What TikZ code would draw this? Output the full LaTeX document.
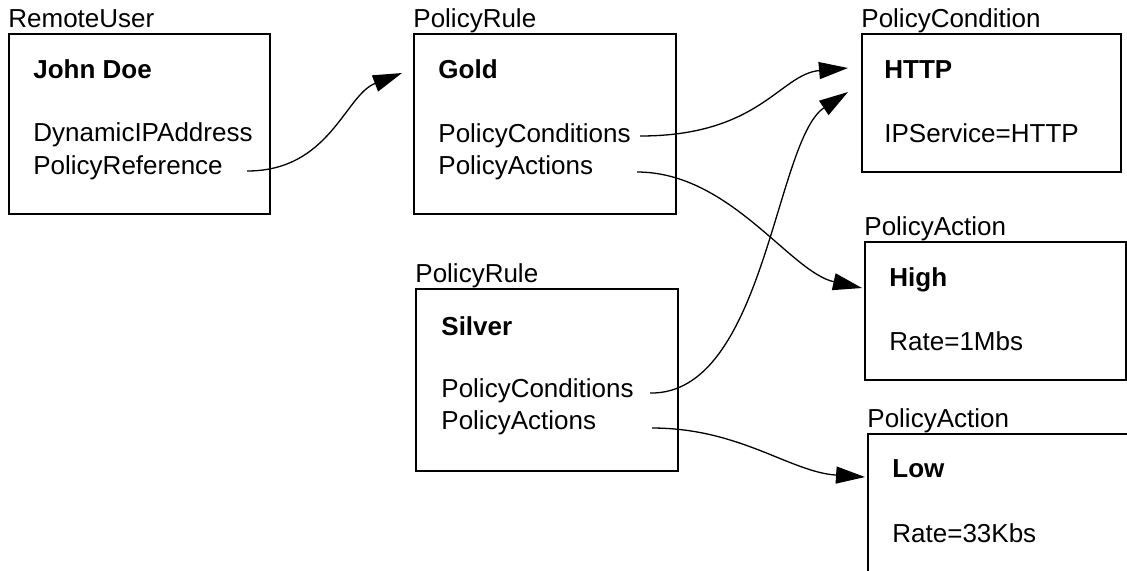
\documentclass[tikz,border=0pt]{standalone}
\usepackage{fontspec}
\setmainfont{Liberation Sans}
\usetikzlibrary{arrows.meta,calc}
\begin{document}
\begin{tikzpicture}[x=0.5pt,y=-0.5pt,
  objbox/.style={draw,line width=0.75pt,rectangle,inner sep=0pt,anchor=north west},
  txt/.style={anchor=base west,inner sep=0pt,font=\fontsize{13}{15}\selectfont},
  title/.style={anchor=base west,inner sep=0pt,font=\fontsize{13}{15}\selectfont\bfseries},
  link/.style={line width=0.65pt,-{Triangle[length=14.5pt,width=8.5pt]}}]
\clip (0,0) rectangle (1127,570);

% RemoteUser object
\node[objbox,minimum width=130.5pt,minimum height=90pt] (ru) at (8,33) {};
\node[txt] (rucls) at (8,27) {RemoteUser};
\node[title] (runame) at (33,78) {John Doe};
\node[txt] (ruip) at (33,141) {DynamicIPAddress};
\node[txt] (ruref) at (33,174) {PolicyReference};

% Gold rule
\node[objbox,minimum width=131pt,minimum height=90pt] (gold) at (413,33) {};
\node[txt] (goldcls) at (413,27) {PolicyRule};
\node[title] (goldname) at (438,78) {Gold};
\node[txt] (goldcond) at (438,142) {PolicyConditions};
\node[txt] (goldact) at (438,174) {PolicyActions};

% HTTP condition
\node[objbox,minimum width=129.5pt,minimum height=69pt] (pc) at (861,33) {};
\node[txt] (pccls) at (861,27) {PolicyCondition};
\node[title] (pcname) at (884,78) {HTTP};
\node[txt] (pcsvc) at (884,142) {IPService=HTTP};

% High action
\node[objbox,minimum width=130.5pt,minimum height=69pt] (high) at (864,241) {};
\node[txt] (highcls) at (864,235) {PolicyAction};
\node[title] (highname) at (889,286) {High};
\node[txt] (highrate) at (889,350) {Rate=1Mbs};

% Silver rule
\node[objbox,minimum width=131pt,minimum height=91pt] (silver) at (415,288) {};
\node[txt] (silvercls) at (415,282) {PolicyRule};
\node[title] (silvername) at (441,335) {Silver};
\node[txt] (silvercond) at (441,397) {PolicyConditions};
\node[txt] (silveract) at (441,429) {PolicyActions};

% Low action
\node[objbox,minimum width=150pt,minimum height=100pt] (low) at (867,433) {};
\node[txt] (lowcls) at (867,427) {PolicyAction};
\node[title] (lowname) at (892,477) {Low};
\node[txt] (lowrate) at (892,542) {Rate=33Kbs};

% connector end points
\coordinate (refout) at (247,171);
\coordinate (gcout) at (640,136);
\coordinate (gaout) at (637,172);
\coordinate (scout) at (650,393);
\coordinate (saout) at (652,428);
\coordinate (goldin) at ($(gold.north west)+(-11,40)$);
\coordinate (pcin1) at ($(pc.north west)+(-13,35)$);
\coordinate (pcin2) at ($(pc.north west)+(-13,59)$);
\coordinate (highin) at ($(high.north west)+(-2,47)$);
\coordinate (lowin) at ($(low.north west)+(-2,44)$);

% references
\draw[link] (refout) .. controls (330,171) and (345,95) .. (goldin);
\draw[link] (gcout) .. controls (760,136) and (780,74) .. (pcin1);
\draw[link] (gaout) .. controls (730,172) and (790,272) .. (highin);
\draw[link] (scout) .. controls (765,395) and (775,140) .. (pcin2);
\draw[link] (saout) .. controls (740,428) and (790,472) .. (lowin);
\end{tikzpicture}
\end{document}
